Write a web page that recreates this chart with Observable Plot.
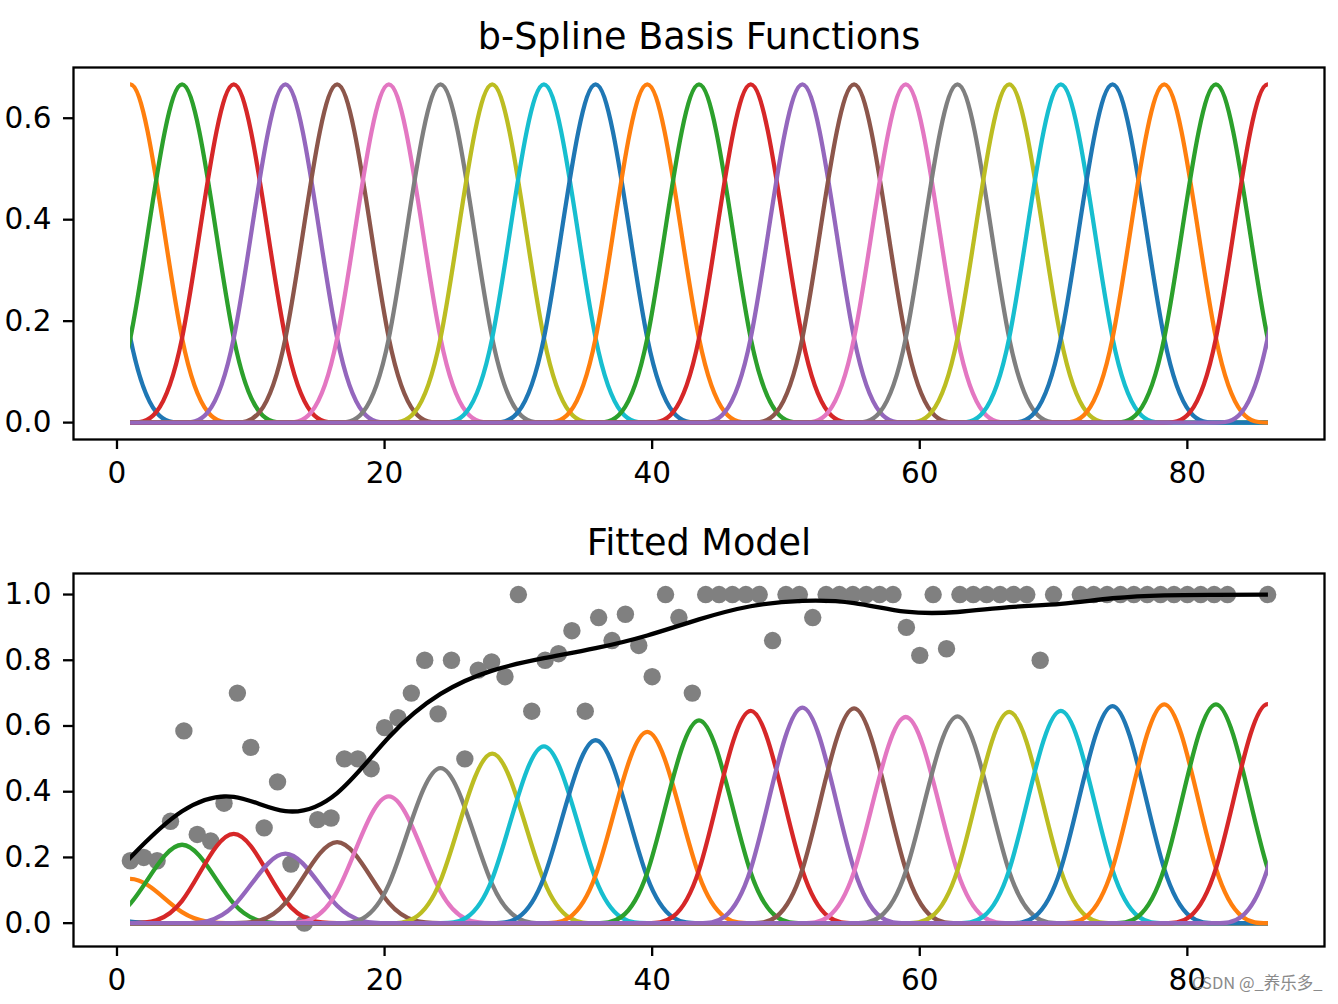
<!DOCTYPE html>
<html>
<head>
<meta charset="utf-8">
<script src="https://cdn.jsdelivr.net/npm/d3@7"></script>
<script src="https://cdn.jsdelivr.net/npm/@observablehq/plot@0.6"></script>
<style>
  html, body { margin: 0; padding: 0; background: #fff; }
  #wrap { position: relative; width: 1338px; height: 1004px; overflow: hidden; background: #fff; }
  #wrap svg { display: block; }
  #mark { position: absolute; left: 1192px; top: 974px; font-family: "Noto Sans CJK SC", "DejaVu Sans", sans-serif;
          font-size: 16.5px; color: #8a8a8a; white-space: nowrap; line-height: 1; }
</style>
</head>
<body>
<div id="wrap"><div id="mark">CSDN @_养乐多_</div></div>
<script>
// ---------- data ----------
// control-point (knot) positions of the uniform cubic B-spline basis
const knotX = [-2.864, 1, 4.864, 8.727, 12.591, 16.455, 20.318, 24.182, 28.045, 31.909,
  35.773, 39.636, 43.5, 47.364, 51.227, 55.091, 58.955, 62.818, 66.682, 70.545,
  74.409, 78.273, 82.136, 86, 89.864];
// top panel: every basis function at unit weight
const basisWeights = [1, 1, 1, 1, 1, 1, 1, 1, 1, 1, 1, 1, 1, 1, 1, 1, 1, 1, 1, 1, 1, 1, 1, 1, 1];
// bottom panel: fitted coefficients (peak heights / (2/3))
const fitCoefs = [0.03, 0.2025, 0.358, 0.408, 0.317, 0.370, 0.579, 0.708, 0.774, 0.807,
  0.835, 0.873, 0.926, 0.969, 0.984, 0.980, 0.941, 0.944, 0.964, 0.969,
  0.991, 0.999, 0.999, 1.0, 1.0];
// observed points
const ages = [1, 2, 3, 4, 5, 6, 7, 8, 9, 10, 11, 12, 13, 14, 15, 16, 17, 18, 19, 20,
  21, 22, 23, 24, 25, 26, 27, 28, 29, 30, 31, 32, 33, 34, 35, 36, 37, 38, 39, 40,
  41, 42, 43, 44, 45, 46, 47, 48, 49, 50, 51, 52, 53, 54, 55, 56, 57, 58, 59, 60,
  61, 62, 63, 64, 65, 66, 67, 68, 69, 70, 72, 73, 74, 75, 76, 77, 78, 79, 80, 81,
  82, 83, 86];
const rates = [0.19, 0.20, 0.19, 0.31, 0.585, 0.27, 0.25, 0.365, 0.70, 0.535,
  0.29, 0.43, 0.18, 0.0, 0.315, 0.32, 0.50, 0.50, 0.47, 0.595,
  0.625, 0.70, 0.80, 0.637, 0.80, 0.50, 0.77, 0.795, 0.75, 1.0,
  0.645, 0.80, 0.82, 0.89, 0.645, 0.93, 0.86, 0.94, 0.845, 0.75,
  1.0, 0.93, 0.70, 1.0, 1.0, 1.0, 1.0, 1.0, 0.86, 1.0,
  1.0, 0.93, 1.0, 1.0, 1.0, 1.0, 1.0, 1.0, 0.90, 0.815,
  1.0, 0.835, 1.0, 1.0, 1.0, 1.0, 1.0, 1.0, 0.80, 1.0,
  1.0, 1.0, 1.0, 1.0, 1.0, 1.0, 1.0, 1.0, 1.0, 1.0,
  1.0, 1.0, 1.0];
const xRangeStart = 1, xRangeEnd = 86;
const xTicks = [0, 20, 40, 60, 80];
const yTicksTop = [0, 0.2, 0.4, 0.6];
const yTicksBottom = [0, 0.2, 0.4, 0.6, 0.8, 1.0];
const titles = ["b-Spline Basis Functions", "Fitted Model"];
const tab10 = ["#1f77b4", "#ff7f0e", "#2ca02c", "#d62728", "#9467bd",
  "#8c564b", "#e377c2", "#7f7f7f", "#bcbd22", "#17becf"];

// ---------- tables ----------
function basisRows(coefs) {
  const rows = [];
  coefs.forEach((c, i) => {
    knotX.forEach((x, j) => rows.push({basis: i, x, y: i === j ? c : 0, color: tab10[i % 10]}));
  });
  return rows;
}
const fitRows = knotX.map((x, j) => ({x, y: fitCoefs[j]}));
const points = ages.map((a, i) => ({age: a, rate: rates[i]}));

const W = 1338, ML = 73, MR = 14, MT = 67;
const xDomain = [-3.25, 90.25];
const fmt = d3.format(".1f");
const LW = 4.3;

function panel({title, height, marginBottom, yDomain, yTicks, before, coefs, id}) {
  const chart = Plot.plot({
    width: W, height,
    marginLeft: ML, marginRight: MR, marginTop: MT, marginBottom,
    style: {fontFamily: "DejaVu Sans", fontSize: "29px", background: "white", color: "black", overflow: "visible"},
    x: {domain: xDomain},
    y: {domain: yDomain},
    color: {type: "identity"},
    marks: [
      ...before,
      Plot.line(basisRows(coefs), {x: "x", y: "y", z: "basis", stroke: "color", strokeWidth: LW,
        curve: "basis", strokeLinejoin: "round"}),
      Plot.frame({stroke: "black", strokeWidth: 2.3}),
      Plot.axisX({ticks: xTicks, tickSize: 10, tickPadding: 13, strokeWidth: 2.3, label: null, fontSize: 29.5}),
      Plot.axisY({ticks: yTicks, tickSize: 10, tickPadding: 12, strokeWidth: 2.3, label: null, fontSize: 29.5,
        tickFormat: fmt}),
      Plot.text([title], {frameAnchor: "top", dy: -19, lineAnchor: "bottom", text: d => d, fontSize: 36.6})
    ]
  });
  // clip spline curves to the data range [1, 86]
  const svg = chart.tagName.toLowerCase() === "svg" ? chart : chart.querySelector("svg");
  const xs = chart.scale("x");
  const px = v => (xs && xs.apply) ? xs.apply(v) : ML + (v - xDomain[0]) * (W - ML - MR) / (xDomain[1] - xDomain[0]);
  const a = px(xRangeStart) - 0.3, b = px(xRangeEnd) + 0.3;
  const ns = "http://www.w3.org/2000/svg";
  const defs = document.createElementNS(ns, "defs");
  const cp = document.createElementNS(ns, "clipPath");
  cp.setAttribute("id", id);
  const r = document.createElementNS(ns, "rect");
  r.setAttribute("x", a); r.setAttribute("y", 0);
  r.setAttribute("width", b - a); r.setAttribute("height", height);
  cp.appendChild(r); defs.appendChild(cp);
  svg.insertBefore(defs, svg.firstChild);
  svg.querySelectorAll('g[aria-label="line"]').forEach(g => g.setAttribute("clip-path", `url(#${id})`));
  return chart;
}

const wrap = document.getElementById("wrap");
const topChart = panel({title: titles[0], height: 506, marginBottom: 67, yDomain: [-0.0333, 0.7],
  yTicks: yTicksTop, before: [], coefs: basisWeights, id: "clipTop"});
const bottomChart = panel({title: titles[1], height: 498, marginBottom: 58, yDomain: [-0.071, 1.064],
  yTicks: yTicksBottom, coefs: fitCoefs, id: "clipBottom",
  before: [
    Plot.dot(points, {x: "age", y: "rate", r: 8.7, fill: "#808080", stroke: "none"}),
    Plot.line(fitRows, {x: "x", y: "y", stroke: "black", strokeWidth: LW, curve: "basis", strokeLinejoin: "round"})
  ]});
wrap.insertBefore(bottomChart, wrap.firstChild);
wrap.insertBefore(topChart, wrap.firstChild);
</script>
</body>
</html>
